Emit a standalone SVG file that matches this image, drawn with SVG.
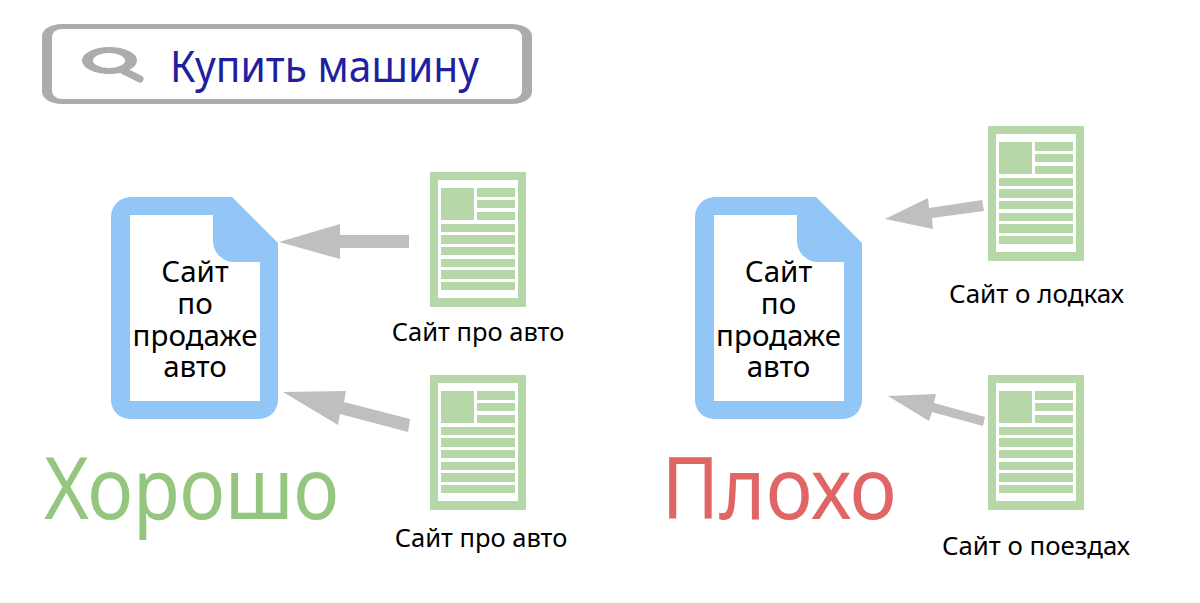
<svg xmlns="http://www.w3.org/2000/svg" width="1200" height="603" viewBox="0 0 1200 603">
<style>
text{font-family:"Noto Sans","Open Sans",sans-serif;fill:#000;text-anchor:middle}
.lab{font-size:25.500px}
.main{font-size:29.500px}
.arrow{fill:#bfbfbf}
.pg{fill:#b6d7a8}
</style>
<defs>
<g id="page">
<path class="pg" fill-rule="evenodd" d="M0 0H96V135H0ZM8 8V126H88V8Z"/>
<path class="pg" d="M11 16H44V48H11ZM47 16H85V25H47ZM47 28H85V36H47ZM47 40H85V48H47ZM11 52H85V60H11ZM11 63H85V72H11ZM11 75H85V83H11ZM11 87H85V95H11ZM11 98H85V107H11ZM11 110H85V118H11Z"/>
</g>
<g id="doc">
<path fill="#92c6f7" fill-rule="evenodd" d="M20 0H121L167 46V203A19 19 0 0 1 148 222H19A19 19 0 0 1 0 203V20A20 20 0 0 1 20 0ZM19 18V204H149V65H123A21 21 0 0 1 102 44V18Z"/>
</g>
</defs>
<g id="search">
<rect x="42" y="24" width="490" height="80" rx="20" ry="12" fill="#acacac"/>
<rect x="52" y="29" width="470" height="70" rx="10" ry="8" fill="#fff"/>
<path fill="#acacac" fill-rule="evenodd" d="M82 60.500A27.500 13.500 0 1 1 137 60.500A27.500 13.500 0 1 1 82 60.500ZM93 60.500A16 7.500 0 1 0 125 60.500A16 7.500 0 1 0 93 60.500Z"/>
<path d="M124 71L140 79" stroke="#acacac" stroke-width="7" stroke-linecap="round" fill="none"/>
<text x="324.500" y="82" font-size="44" textLength="309" lengthAdjust="spacingAndGlyphs" style="fill:#1f1fa0">Купить машину</text>
</g>
<g id="connectors">
<polygon class="arrow" points="279,242 340,224 340,235 409,235 409,248 340,248 340,259"/>
<polygon class="arrow" points="283,392 346,391 344,402 410,419 408,432 340,414 338,425"/>
<polygon class="arrow" points="885,219 928,198 929,208 982,200 984,211 932,218 933,229"/>
<polygon class="arrow" points="888,396 936,394 934,403 985,417 983,426 932,412 929,421"/>
</g>
<g id="good-doc">
<use href="#doc" x="111" y="197"/>
<text class="main"><tspan x="195" y="282">Сайт</tspan><tspan x="195" y="314">по</tspan><tspan x="195" y="346">продаже</tspan><tspan x="195" y="377">авто</tspan></text>
</g>
<g id="bad-doc">
<use href="#doc" x="695" y="197"/>
<text class="main"><tspan x="778.500" y="282">Сайт</tspan><tspan x="778.500" y="314">по</tspan><tspan x="778.500" y="346">продаже</tspan><tspan x="778.500" y="377">авто</tspan></text>
</g>
<g id="site1"><use href="#page" x="430" y="172"/><text class="lab" x="478" y="341">Сайт про авто</text></g>
<g id="site2"><use href="#page" x="430" y="375"/><text class="lab" x="481" y="547">Сайт про авто</text></g>
<g id="site3"><use href="#page" x="988" y="126"/><text class="lab" x="1036.500" y="303" textLength="175" lengthAdjust="spacingAndGlyphs">Сайт о лодках</text></g>
<g id="site4"><use href="#page" x="988" y="375"/><text class="lab" x="1036" y="555" textLength="188" lengthAdjust="spacingAndGlyphs">Сайт о поездах</text></g>
<text x="191.500" y="519" font-size="85" textLength="295" lengthAdjust="spacingAndGlyphs" style="fill:#94c67f">Хорошо</text>
<text x="779" y="519" font-size="85" textLength="235" lengthAdjust="spacingAndGlyphs" style="fill:#e06666">Плохо</text>
</svg>
